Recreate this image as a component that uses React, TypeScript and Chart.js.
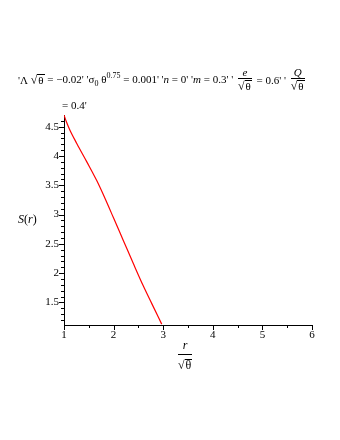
import React, { useEffect, useRef } from "react";
import { Chart, registerables } from "chart.js";

Chart.register(...registerables);

const rValues = [1.0, 1.05, 1.12, 1.26, 1.46, 1.66, 1.83, 2.0, 2.2, 2.4, 2.6, 2.77, 2.97];
const sValues = [4.7, 4.58, 4.44, 4.21, 3.9, 3.58, 3.27, 2.94, 2.55, 2.16, 1.78, 1.48, 1.13];

const xTickValues = [1, 2, 3, 4, 5, 6];
const xTickLabels = ["1", "2", "3", "4", "5", "6"];
const yTickValues = [1.5, 2, 2.5, 3, 3.5, 4, 4.5];
const yTickLabels = ["1.5", "2", "2.5", "3", "3.5", "4", "4.5"];

const X_MIN = 1;
const X_MAX = 6;
const Y_MIN = 1.115;
const Y_MAX = 4.7;

const FONT = '"Liberation Serif", "DejaVu Serif", serif';

const Sqrt = ({ children }: { children: React.ReactNode }) => (
  <span style={{ display: "inline-flex", alignItems: "flex-end" }}>
    <span style={{ fontSize: "12px", lineHeight: "12px" }}>√</span>
    <span style={{ borderTop: "1px solid #000", lineHeight: "11px", paddingLeft: 1, paddingRight: 1 }}>{children}</span>
  </span>
);

const Frac = ({ num, den, gap = 1 }: { num: React.ReactNode; den: React.ReactNode; gap?: number }) => (
  <span style={{ display: "inline-flex", flexDirection: "column", alignItems: "center", margin: "0 2px" }}>
    <span style={{ lineHeight: "12px", padding: "0 2px", marginBottom: gap - 1 }}>{num}</span>
    <span style={{ alignSelf: "stretch", borderTop: "1px solid #000" }} />
    <span style={{ lineHeight: "13px", marginTop: gap }}>{den}</span>
  </span>
);

const tickPlugin = {
  id: "mapleTicks",
  afterDraw(chart: any) {
    const ctx = chart.ctx;
    const xs = chart.scales.x;
    const ys = chart.scales.y;
    const area = chart.chartArea;
    ctx.save();
    ctx.strokeStyle = "#000";
    ctx.lineWidth = 1;
    ctx.beginPath();
    for (let i = 12; i <= 46; i++) {
      const v = i / 10;
      const y = Math.round(ys.getPixelForValue(v)) + 0.5;
      const len = i % 5 === 0 ? 5 : 3;
      ctx.moveTo(area.left, y);
      ctx.lineTo(area.left - len, y);
    }
    for (let i = 2; i <= 12; i++) {
      const v = i / 2;
      const x = Math.round(xs.getPixelForValue(v)) + 0.5;
      const len = i % 2 === 0 ? 5 : 3;
      ctx.moveTo(x, area.bottom);
      ctx.lineTo(x, area.bottom + len);
    }
    ctx.stroke();
    ctx.restore();
  },
};

export default function App() {
  const canvasRef = useRef<HTMLCanvasElement | null>(null);

  useEffect(() => {
    if (!canvasRef.current) return;
    const chart = new Chart(canvasRef.current, {
      type: "line",
      data: {
        datasets: [
          {
            data: rValues.map((r, i) => ({ x: r, y: sValues[i] })),
            borderColor: "#ff0000",
            borderWidth: 1.2,
            pointRadius: 0,
            cubicInterpolationMode: "monotone",
            fill: false,
          },
        ],
      },
      plugins: [tickPlugin],
      options: {
        responsive: false,
        animation: false,
        layout: { padding: { left: 0, top: 115, right: 28, bottom: 90 } },
        plugins: { legend: { display: false }, tooltip: { enabled: false }, title: { display: false } },
        scales: {
          x: {
            type: "linear",
            min: X_MIN,
            max: X_MAX,
            afterBuildTicks: (scale: any) => {
              scale.ticks = xTickValues.map((v) => ({ value: v }));
            },
            afterFit: (scale: any) => {
              scale.height = 25;
            },
            grid: { display: true, drawOnChartArea: false, drawTicks: false },
            border: { display: true, color: "#000", width: 1 },
            ticks: {
              color: "#000",
              padding: 4,
              autoSkip: false,
              maxRotation: 0,
              font: { family: FONT, size: 11 },
              callback: (value: any) => {
                const idx = xTickValues.indexOf(Number(value));
                return idx >= 0 ? xTickLabels[idx] : "";
              },
            },
          },
          y: {
            type: "linear",
            min: Y_MIN,
            max: Y_MAX,
            afterBuildTicks: (scale: any) => {
              scale.ticks = yTickValues.map((v) => ({ value: v }));
            },
            afterFit: (scale: any) => {
              scale.width = 64;
            },
            grid: { display: true, drawOnChartArea: false, drawTicks: false },
            border: { display: true, color: "#000", width: 1 },
            ticks: {
              color: "#000",
              padding: 5,
              autoSkip: false,
              font: { family: FONT, size: 11 },
              callback: (value: any) => {
                const idx = yTickValues.indexOf(Number(value));
                return idx >= 0 ? yTickLabels[idx] : "";
              },
            },
          },
        },
      },
    });
    return () => chart.destroy();
  }, []);

  return (
    <div style={{ position: "absolute", left: 0, top: 0, width: 340, height: 440, background: "#fff", fontFamily: FONT, color: "#000" }}>
      <canvas ref={canvasRef} width={340} height={440} style={{ display: "block", position: "absolute", left: 0, top: 0 }} />
      <div style={{ position: "absolute", left: 18, top: 66, fontSize: "11px", whiteSpace: "nowrap", display: "flex", alignItems: "center" }}>
        <span>'Λ&nbsp;</span>
        <Sqrt>θ</Sqrt>
        <span>&nbsp;= −0.02' 'σ<sub style={{ fontSize: "8px" }}>0</sub>&nbsp;θ<sup style={{ fontSize: "8px" }}>0.75</sup>&nbsp;= 0.001' '<i>n</i> = 0' '<i>m</i> = 0.3' '&nbsp;</span>
        <Frac num={<i>e</i>} den={<Sqrt>θ</Sqrt>} />
        <span>&nbsp;= 0.6' '&nbsp;</span>
        <Frac num={<i>Q</i>} den={<Sqrt>θ</Sqrt>} />
      </div>
      <div style={{ position: "absolute", left: 62, top: 99, fontSize: "11px", whiteSpace: "nowrap" }}>= 0.4'</div>
      <div style={{ position: "absolute", left: 18, top: 212, fontSize: "12px", whiteSpace: "nowrap" }}>
        <i>S</i>(<i>r</i>)
      </div>
      <div style={{ position: "absolute", left: 176, top: 338, fontSize: "12px" }}>
        <Frac num={<i>r</i>} den={<Sqrt>θ</Sqrt>} gap={4} />
      </div>
    </div>
  );
}
